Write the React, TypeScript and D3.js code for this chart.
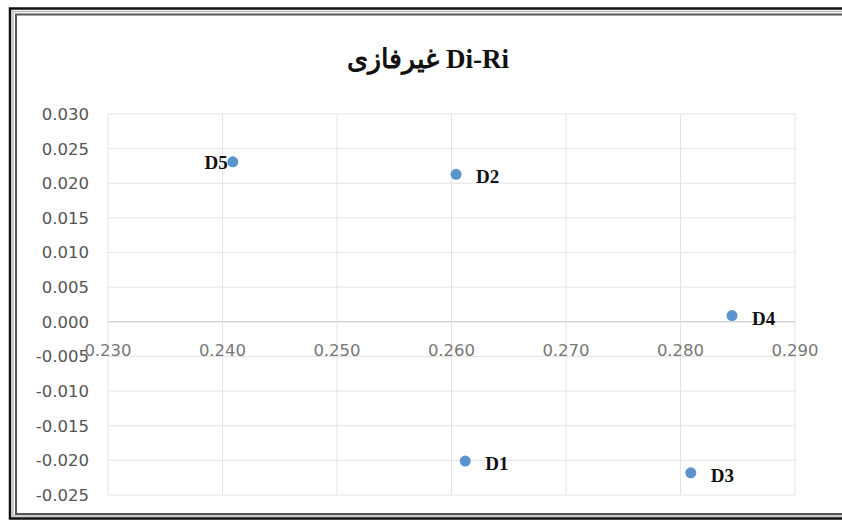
import React from "react";
import * as d3 from "d3";

const names = ["D1", "D2", "D3", "D4", "D5"];
const xValues = [0.2612, 0.2604, 0.2809, 0.2845, 0.2409];
const yValues = [-0.0201, 0.0213, -0.0218, 0.0009, 0.0231];
const labelSide = ["right", "right", "right", "right", "left"];
const xTicks = [0.23, 0.24, 0.25, 0.26, 0.27, 0.28, 0.29];
const yTicks = [0.03, 0.025, 0.02, 0.015, 0.01, 0.005, 0, -0.005, -0.01, -0.015, -0.02, -0.025];
const titleFa = "غیرفازی";
const titleEn = "Di-Ri";

const W = 842;
const H = 521;
const plot = { left: 108, right: 795, top: 114, bottom: 495 };

const fmt = (v: number) => d3.format(".3f")(v).replace("−", "-");

function framePath(x0: number, y0: number, y1: number) {
  const p = d3.path();
  p.moveTo(W + 10, y0);
  p.lineTo(x0, y0);
  p.lineTo(x0, y1);
  p.lineTo(W + 10, y1);
  return p.toString();
}

export default function App() {
  const x = d3.scaleLinear().domain([0.23, 0.29]).range([plot.left, plot.right]);
  const y = d3.scaleLinear().domain([-0.025, 0.03]).range([plot.bottom, plot.top]);

  return (
    <svg
      width={W}
      height={H}
      style={{ position: "absolute", left: 0, top: 0, background: "#fff" }}
    >
      {/* frame */}
      <path d={framePath(10, 8.5, 518.5)} fill="none" stroke="#111" strokeWidth={2.5} />
      <path d={framePath(13, 11.5, 516)} fill="none" stroke="#bbb" strokeWidth={1.5} />
      <path d={framePath(16, 14.5, 514)} fill="none" stroke="#555" strokeWidth={2} />

      {/* title: Persian word on the left, Latin on the right */}
      <text
        x={428}
        y={68}
        textAnchor="middle"
        fontFamily="'Liberation Serif', 'Times New Roman', serif"
        fontWeight="bold"
        fontSize={27}
        fill="#111"
      >
        <tspan>{titleFa}</tspan>
        <tspan dx={7}>{titleEn}</tspan>
      </text>

      {/* gridlines */}
      {yTicks.map((t) => (
        <line
          key={"gy" + t}
          x1={plot.left}
          x2={plot.right}
          y1={y(t)}
          y2={y(t)}
          stroke={t === 0 ? "#bfbfbf" : "#e3e3e3"}
          strokeWidth={1}
        />
      ))}
      {xTicks.map((t) => (
        <line
          key={"gx" + t}
          x1={x(t)}
          x2={x(t)}
          y1={plot.top}
          y2={plot.bottom}
          stroke="#e3e3e3"
          strokeWidth={1}
        />
      ))}

      {/* y tick labels */}
      {yTicks.map((t) => (
        <text
          key={"ly" + t}
          x={89}
          y={y(t)}
          dy="0.36em"
          textAnchor="end"
          fontFamily="'DejaVu Sans', sans-serif"
          fontSize={16.5}
          fill="#555"
        >
          {fmt(t)}
        </text>
      ))}

      {/* x tick labels */}
      {xTicks.map((t) => (
        <text
          key={"lx" + t}
          x={x(t)}
          y={y(0) + 28}
          dy="0.36em"
          textAnchor="middle"
          fontFamily="'DejaVu Sans', sans-serif"
          fontSize={16.5}
          fill="#777"
        >
          {fmt(t)}
        </text>
      ))}

      {/* points */}
      {names.map((n, i) => (
        <circle key={"p" + n} cx={x(xValues[i])} cy={y(yValues[i])} r={5.5} fill="#5b93cc" />
      ))}

      {/* data labels */}
      {names.map((n, i) => {
        const px = x(xValues[i]);
        const py = y(yValues[i]);
        const right = labelSide[i] === "right";
        return (
          <text
            key={"t" + n}
            x={right ? px + 20 : px - 5}
            y={right ? py + 9 : py + 7}
            textAnchor={right ? "start" : "end"}
            fontFamily="'Liberation Serif', 'Times New Roman', serif"
            fontWeight="bold"
            fontSize={19}
            fill="#111"
          >
            {n}
          </text>
        );
      })}
    </svg>
  );
}
